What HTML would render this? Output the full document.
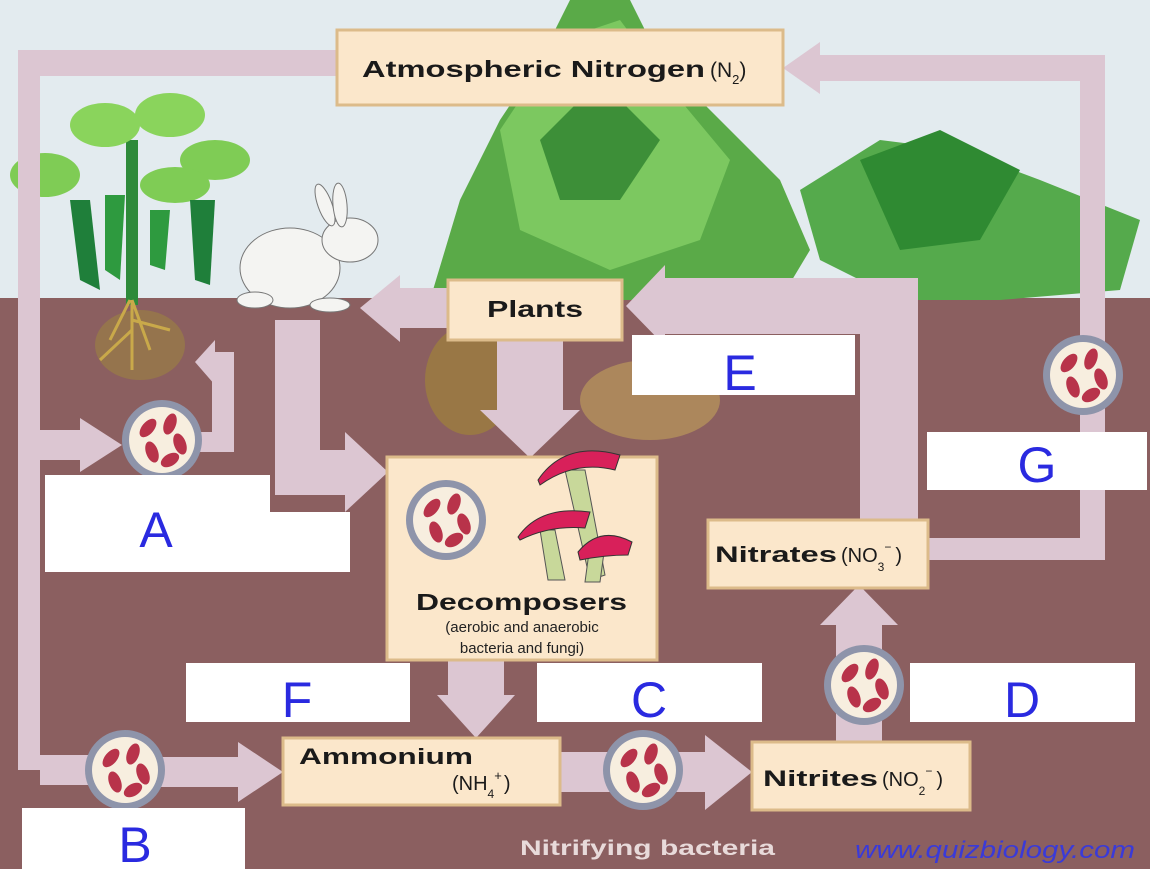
<!DOCTYPE html>
<html><head><meta charset="utf-8"><style>
html,body{margin:0;padding:0;width:1150px;height:869px;overflow:hidden;background:#fff}
svg{display:block}
text{font-family:"Liberation Sans","DejaVu Sans",sans-serif}
</style></head><body>
<svg width="1150" height="869" viewBox="0 0 1150 869" xmlns="http://www.w3.org/2000/svg">
<defs>
<g id="bac">
<circle r="40" fill="#8e94aa"/><circle r="33" fill="#f7eedf"/>
<ellipse cx="-14" cy="-12" rx="6" ry="11" fill="#b8334a" transform="rotate(40 -14 -12)"/>
<ellipse cx="8" cy="-16" rx="6" ry="11" fill="#b8334a" transform="rotate(20 8 -16)"/>
<ellipse cx="18" cy="4" rx="6" ry="11" fill="#b8334a" transform="rotate(-20 18 4)"/>
<ellipse cx="-10" cy="12" rx="6" ry="11" fill="#b8334a" transform="rotate(-20 -10 12)"/>
<ellipse cx="8" cy="20" rx="6" ry="10" fill="#b8334a" transform="rotate(60 8 20)"/>
</g>
</defs>
<rect x="0" y="0" width="1150" height="300" fill="#e3ebef"/>
<rect x="0" y="298" width="1150" height="571" fill="#8b5f60"/>
<!-- background plants -->
<g>
<path d="M430 300 L460 200 L500 120 L540 60 L570 0 L630 0 L660 60 L720 120 L780 180 L810 250 L780 300Z" fill="#5aaa48"/>
<path d="M500 130 L560 40 L620 20 L680 100 L730 160 L700 240 L610 270 L520 230Z" fill="#7cc860"/>
<path d="M540 140 L600 80 L660 140 L620 200 L560 200Z" fill="#3d8f38"/>
<path d="M800 190 L880 140 L960 150 L1040 180 L1140 220 L1120 290 L1000 300 L900 300 L820 260Z" fill="#55aa4c"/>
<path d="M860 160 L940 130 L1020 170 L980 240 L900 250Z" fill="#2f8a32"/>
</g>
<!-- left plant -->
<g>
<rect x="126" y="140" width="12" height="165" fill="#2e8a3a"/>
<ellipse cx="45" cy="175" rx="35" ry="22" fill="#7fcc55"/>
<ellipse cx="105" cy="125" rx="35" ry="22" fill="#8ad45c"/>
<ellipse cx="170" cy="115" rx="35" ry="22" fill="#8ad45c"/>
<ellipse cx="215" cy="160" rx="35" ry="20" fill="#7fcc55"/>
<ellipse cx="175" cy="185" rx="35" ry="18" fill="#7fcc55"/>
<path d="M70 200 L90 200 L100 290 L80 280Z" fill="#1f7f3a"/>
<path d="M105 195 L125 195 L120 280 L105 270Z" fill="#2e9a3f"/>
<path d="M190 200 L215 200 L210 285 L195 280Z" fill="#1f7f3a"/>
<path d="M150 210 L170 210 L165 270 L150 265Z" fill="#2e9a3f"/>
<ellipse cx="140" cy="345" rx="45" ry="35" fill="#a08a3a" opacity="0.5"/>
<path d="M130 300 L110 340 M132 300 L150 350 M132 300 L132 370 M132 320 L170 330 M132 330 L100 360" stroke="#c9a94a" stroke-width="3" fill="none"/>
</g>
<ellipse cx="470" cy="380" rx="45" ry="55" fill="#a0823a" opacity="0.7"/>
<ellipse cx="650" cy="400" rx="70" ry="40" fill="#c9a85a" opacity="0.55"/>
<!-- rabbit -->
<g fill="#f4f4f2" stroke="#777" stroke-width="1">
<ellipse cx="290" cy="268" rx="50" ry="40"/>
<ellipse cx="350" cy="240" rx="28" ry="22"/>
<ellipse cx="325" cy="205" rx="7" ry="22" transform="rotate(-20 325 205)"/>
<ellipse cx="340" cy="205" rx="7" ry="22" transform="rotate(-5 340 205)"/>
<ellipse cx="255" cy="300" rx="18" ry="8"/>
<ellipse cx="330" cy="305" rx="20" ry="7"/>
</g>
<!-- arrows -->
<g fill="#dcc6d2">
<rect x="18" y="50" width="22" height="720"/>
<rect x="18" y="50" width="320" height="26"/>
<rect x="40" y="430" width="45" height="30"/>
<polygon points="80,418 122,445 80,472"/>
<rect x="200" y="432" width="30" height="20"/>
<rect x="212" y="352" width="22" height="100"/>
<rect x="210" y="352" width="24" height="18"/>
<polygon points="215,340 195,362 215,385"/>
<rect x="40" y="755" width="50" height="30"/>
<rect x="160" y="757" width="80" height="30"/>
<polygon points="238,742 283,772 238,802"/>
<rect x="815" y="55" width="290" height="26"/>
<polygon points="820,42 783,68 820,94"/>
<rect x="1080" y="55" width="25" height="505"/>
<rect x="925" y="538" width="180" height="22"/>
<rect x="275" y="320" width="45" height="175"/>
<rect x="275" y="450" width="75" height="45"/>
<polygon points="345,432 388,472 345,512"/>
<rect x="395" y="288" width="55" height="40"/>
<polygon points="400,275 360,308 400,342"/>
<rect x="497" y="340" width="66" height="80"/>
<polygon points="480,410 530,458 580,410"/>
<rect x="860" y="278" width="58" height="245"/>
<rect x="660" y="278" width="258" height="56"/>
<polygon points="665,265 626,306 665,346"/>
<rect x="448" y="660" width="56" height="40"/>
<polygon points="437,695 476,738 515,695"/>
<rect x="560" y="752" width="150" height="40"/>
<polygon points="705,735 752,772 705,810"/>
<rect x="836" y="620" width="46" height="122"/>
<polygon points="820,625 859,585 898,625"/>
</g>
<!-- Atmospheric box -->
<rect x="337" y="30" width="446" height="75" fill="#fbe7cb" stroke="#dcbb8a" stroke-width="3"/>
<text x="362" y="77" font-size="23" font-weight="bold" fill="#1a1a1a" textLength="343" lengthAdjust="spacingAndGlyphs">Atmospheric Nitrogen</text>
<text x="710" y="77" font-size="21" fill="#1a1a1a">(N<tspan font-size="13" dy="7">2</tspan><tspan dy="-7">)</tspan></text>
<!-- Plants box -->
<rect x="448" y="280" width="174" height="60" fill="#fbe7cb" stroke="#dcbb8a" stroke-width="3"/>
<text x="487" y="317" font-size="23" font-weight="bold" fill="#1a1a1a" textLength="96" lengthAdjust="spacingAndGlyphs">Plants</text>
<!-- Decomposers box -->
<rect x="387" y="457" width="270" height="203" fill="#fbe7cb" stroke="#dcbb8a" stroke-width="3"/>
<g>
<path d="M565 470 L585 470 L605 575 L590 580Z" fill="#c8d89a" stroke="#555"/>
<path d="M540 530 L555 530 L565 580 L548 580Z" fill="#c8d89a" stroke="#555"/>
<path d="M590 545 L605 545 L600 582 L585 582Z" fill="#c8d89a" stroke="#555"/>
<path d="M538 480 Q565 440 620 455 L615 470 Q575 460 540 485Z" fill="#d8205a" stroke="#333"/>
<path d="M518 537 Q540 505 590 512 L585 528 Q550 525 520 540Z" fill="#d8205a" stroke="#333"/>
<path d="M578 552 Q600 525 632 542 L628 555 Q605 555 580 560Z" fill="#d8205a" stroke="#333"/>
</g>
<text x="416" y="610" font-size="23" font-weight="bold" fill="#1a1a1a" textLength="211" lengthAdjust="spacingAndGlyphs">Decomposers</text>
<text x="522" y="632" font-size="15" text-anchor="middle" fill="#222">(aerobic and anaerobic</text>
<text x="522" y="653" font-size="15" text-anchor="middle" fill="#222">bacteria and fungi)</text>
<!-- Nitrates -->
<rect x="708" y="520" width="220" height="68" fill="#fbe7cb" stroke="#dcbb8a" stroke-width="3"/>
<text x="715" y="562" font-size="22" font-weight="bold" fill="#1a1a1a" textLength="122" lengthAdjust="spacingAndGlyphs">Nitrates</text>
<text x="841" y="562" font-size="20" fill="#1a1a1a">(NO<tspan font-size="12" dy="9">3</tspan><tspan font-size="12" dy="-20">−</tspan><tspan dy="11" dx="4">)</tspan></text>
<!-- Ammonium -->
<rect x="283" y="738" width="277" height="67" fill="#fbe7cb" stroke="#dcbb8a" stroke-width="3"/>
<text x="299" y="764" font-size="22" font-weight="bold" fill="#1a1a1a" textLength="174" lengthAdjust="spacingAndGlyphs">Ammonium</text>
<text x="452" y="790" font-size="20" fill="#1a1a1a">(NH<tspan font-size="12" dy="8">4</tspan><tspan font-size="13" dy="-18">+</tspan><tspan dy="10" dx="2">)</tspan></text>
<!-- Nitrites -->
<rect x="752" y="742" width="218" height="68" fill="#fbe7cb" stroke="#dcbb8a" stroke-width="3"/>
<text x="763" y="786" font-size="22" font-weight="bold" fill="#1a1a1a" textLength="115" lengthAdjust="spacingAndGlyphs">Nitrites</text>
<text x="882" y="786" font-size="20" fill="#1a1a1a">(NO<tspan font-size="12" dy="9">2</tspan><tspan font-size="12" dy="-20">−</tspan><tspan dy="11" dx="4">)</tspan></text>
<!-- bacteria circles -->
<use href="#bac" x="162" y="440"/>
<use href="#bac" x="446" y="520"/>
<use href="#bac" x="125" y="770"/>
<use href="#bac" x="643" y="770"/>
<use href="#bac" x="864" y="685"/>
<use href="#bac" x="1083" y="375"/>
<g fill="#ffffff">
<rect x="45" y="475" width="225" height="97"/>
<rect x="268" y="512" width="82" height="60"/>
<rect x="632" y="335" width="223" height="60"/>
<rect x="927" y="432" width="220" height="58"/>
<rect x="186" y="663" width="224" height="59"/>
<rect x="537" y="663" width="225" height="59"/>
<rect x="910" y="663" width="225" height="59"/>
<rect x="22" y="808" width="223" height="61"/>
</g>
<g fill="#2a2ae0" font-size="50" text-anchor="middle">
<text x="156" y="547">A</text>
<text x="740" y="390">E</text>
<text x="1037" y="482">G</text>
<text x="297" y="717">F</text>
<text x="649" y="717">C</text>
<text x="1022" y="717">D</text>
<text x="135" y="862">B</text>
</g>
<text x="520" y="855" font-size="21" font-weight="bold" fill="#e8dada" textLength="255" lengthAdjust="spacingAndGlyphs">Nitrifying bacteria</text>
<text x="855" y="858" font-size="24" font-style="italic" fill="#3a3ad8" textLength="280" lengthAdjust="spacingAndGlyphs">www.quizbiology.com</text>
</svg>
</body></html>
